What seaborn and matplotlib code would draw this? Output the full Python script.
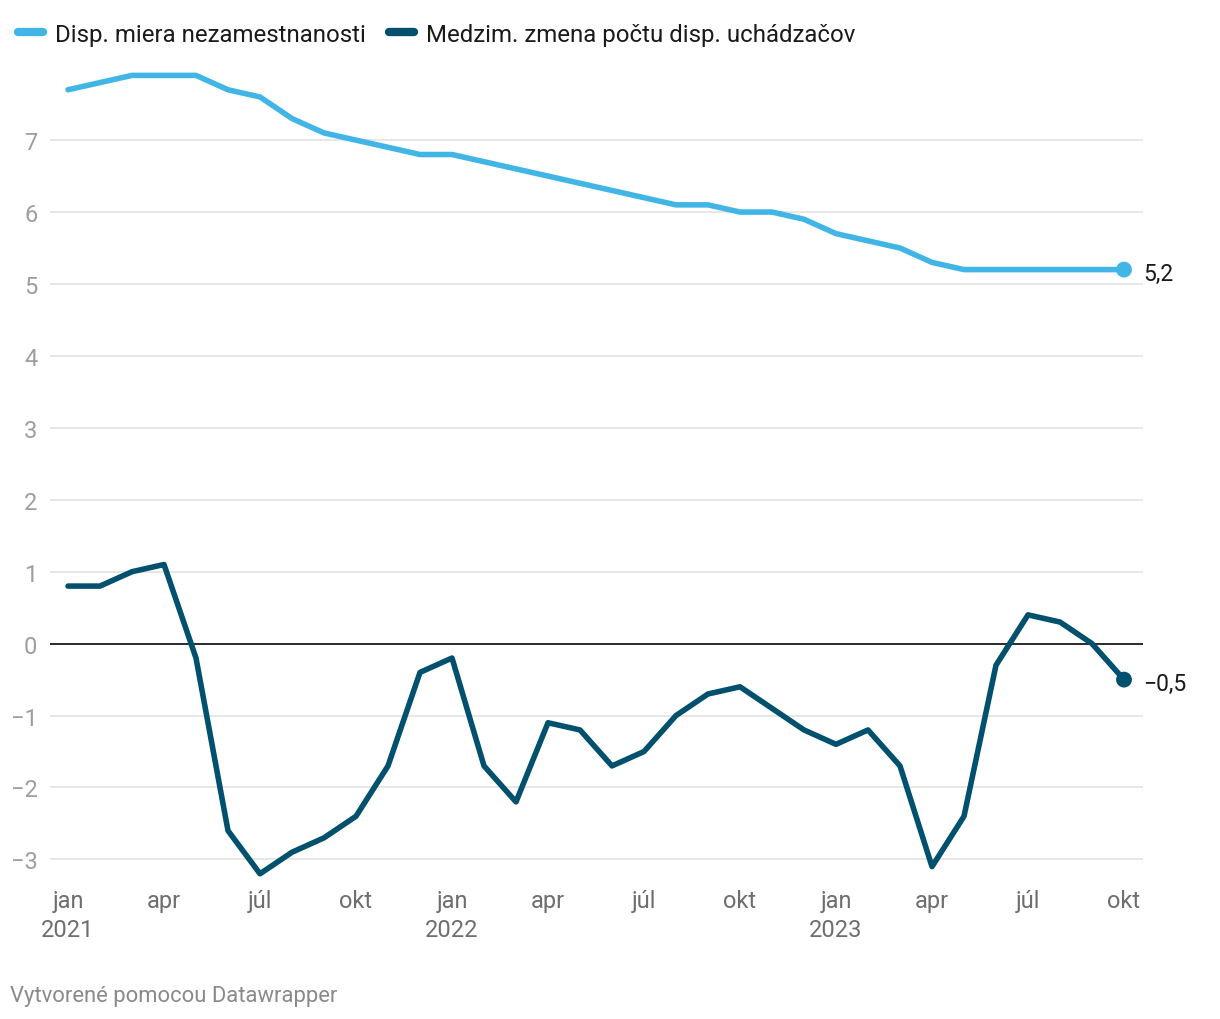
import matplotlib
matplotlib.use("Agg")
import matplotlib.pyplot as plt
import seaborn as sns
import pandas as pd
from matplotlib.lines import Line2D

months = ["jan", "feb", "mar", "apr", "máj", "jún", "júl", "aug", "sep", "okt", "nov", "dec"]

rate = [7.7, 7.8, 7.9, 7.9, 7.9, 7.7, 7.6, 7.3, 7.1, 7.0, 6.9, 6.8,
        6.8, 6.7, 6.6, 6.5, 6.4, 6.3, 6.2, 6.1, 6.1, 6.0, 6.0, 5.9,
        5.7, 5.6, 5.5, 5.3, 5.2, 5.2, 5.2, 5.2, 5.2, 5.2]
change = [0.8, 0.8, 1.0, 1.1, -0.2, -2.6, -3.2, -2.9, -2.7, -2.4, -1.7, -0.4,
          -0.2, -1.7, -2.2, -1.1, -1.2, -1.7, -1.5, -1.0, -0.7, -0.6, -0.9, -1.2,
          -1.4, -1.2, -1.7, -3.1, -2.4, -0.3, 0.4, 0.3, 0.0, -0.5]

series_names = ["Disp. miera nezamestnanosti", "Medzim. zmena počtu disp. uchádzačov"]
colors = ["#41b6e6", "#00506e"]
tick_pos = [0, 3, 6, 9, 12, 15, 18, 21, 24, 27, 30, 33]
tick_labels = ["jan\n2021", "apr", "júl", "okt", "jan\n2022", "apr", "júl", "okt",
               "jan\n2023", "apr", "júl", "okt"]
yticks = [-3, -2, -1, 0, 1, 2, 3, 4, 5, 6, 7]

df = pd.DataFrame({
    "idx": list(range(len(rate))) * 2,
    "value": rate + change,
    "series": [series_names[0]] * len(rate) + [series_names[1]] * len(change),
})

sns.set_theme(style="white")
plt.rcParams["font.family"] = ["Roboto", "DejaVu Sans"]

fig = plt.figure(figsize=(12.2, 10.2), dpi=100)
ax = fig.add_axes([50 / 1220, 1 - 882 / 1020, (1143 - 50) / 1220, 820 / 1020])

for yv in yticks:
    if yv != 0:
        ax.axhline(yv, color="#e3e3e3", lw=1.2, zorder=0)
ax.axhline(0, color="#1a1a1a", lw=1.3, zorder=1)

sns.lineplot(data=df, x="idx", y="value", hue="series", palette=colors,
             hue_order=series_names, lw=4, ax=ax, legend=False, zorder=3)

for vals, c, dy in zip([rate, change], colors, [-3, -3]):
    ax.scatter([len(vals) - 1], [vals[-1]], s=130, color=c, zorder=4, edgecolor="none")
    ax.annotate(f"{vals[-1]:.1f}".replace(".", ",").replace("-", "\u2212"),
                xy=(len(vals) - 1, vals[-1]), xytext=(14, dy), textcoords="offset points",
                va="center", ha="left", fontsize=16.5, color="#1a1a1a")

ax.set_xlim(-0.5625, 33 + 19 / 32)
ax.set_ylim(-3.3, 8.1)
ax.set_xticks(tick_pos)
ax.set_xticklabels(tick_labels, fontsize=17, color="#6e6e6e", linespacing=1.3)
ax.set_yticks(yticks)
ax.set_yticklabels([str(v).replace("-", "\u2212") for v in yticks], fontsize=17, color="#9e9e9e")
ax.tick_params(axis="x", length=0, pad=6)
ax.tick_params(axis="y", length=0, pad=9)
ax.set_xlabel("")
ax.set_ylabel("")
for s in ax.spines.values():
    s.set_visible(False)

handles = [Line2D([0], [0], color=c, lw=6, solid_capstyle="round") for c in colors]
fig.legend(handles, series_names, loc="upper left", bbox_to_anchor=(-0.003, 0.998),
           ncol=2, frameon=False, fontsize=17.3, handlelength=1.05, handletextpad=0.5,
           columnspacing=0.95, labelcolor="#1a1a1a")

fig.text(10 / 1220, 1 - 997 / 1020, "Vytvorené pomocou Datawrapper", fontsize=15.8,
         color="#8a8a8a", va="center", ha="left")

fig.savefig("out.png", dpi=100, facecolor="white")
